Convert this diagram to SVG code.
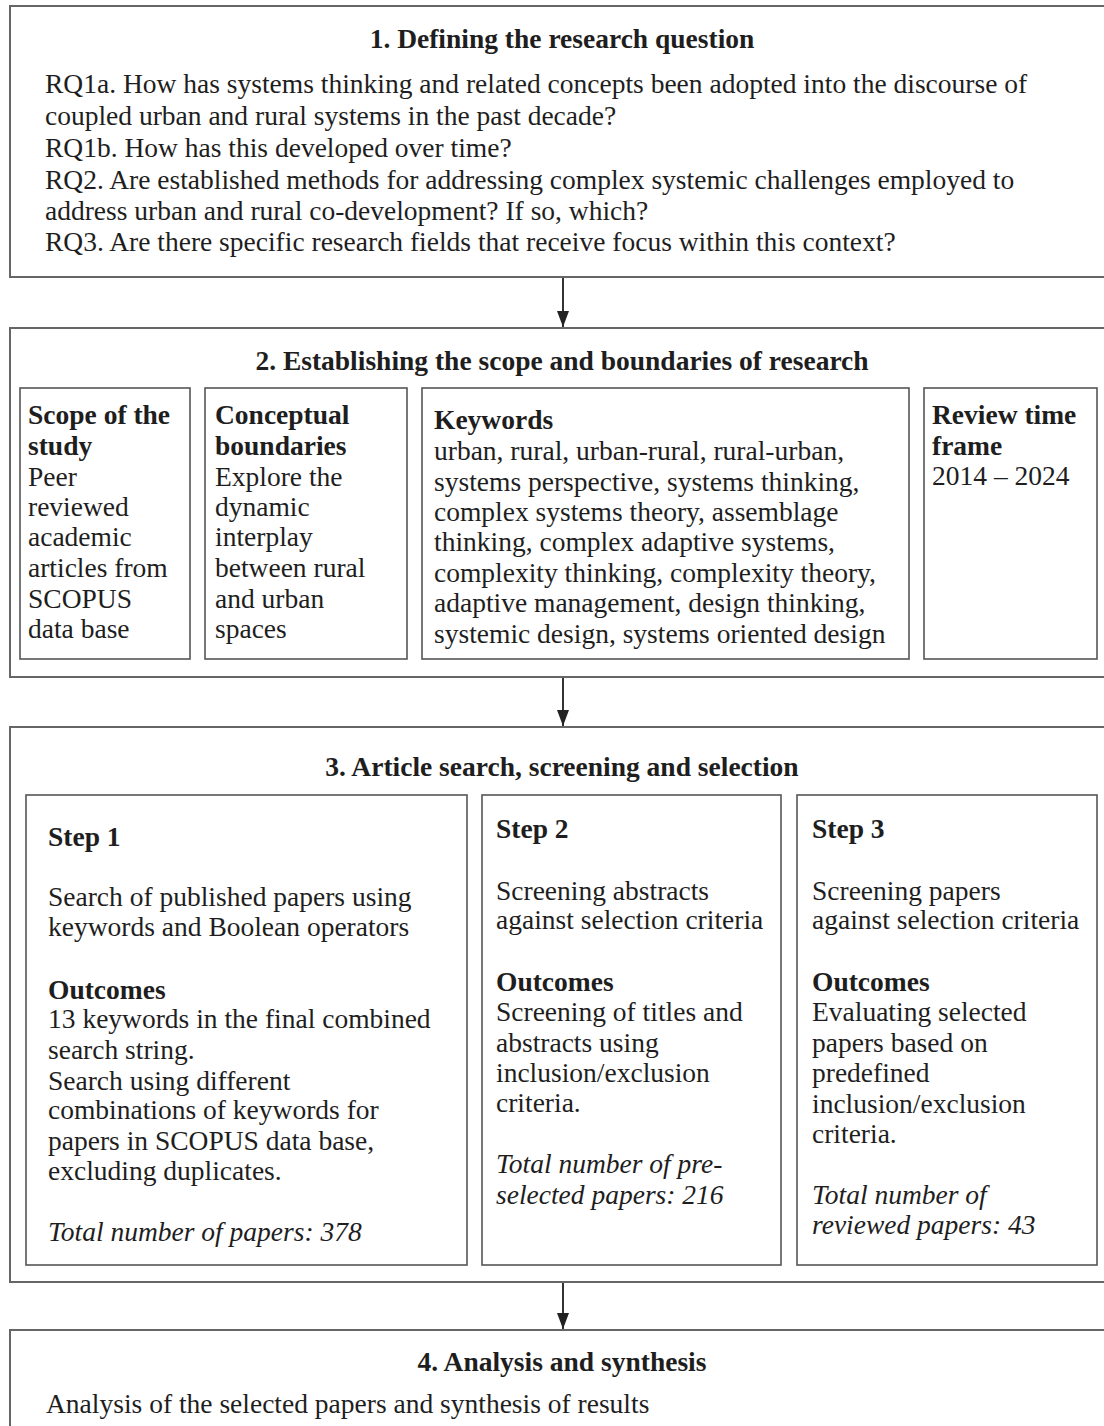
<svg xmlns="http://www.w3.org/2000/svg" width="1104" height="1426" viewBox="0 0 1104 1426">
<defs>
<style>
.outer{fill:#fff;stroke:#666;stroke-width:2}
.inner{fill:#fff;stroke:#555;stroke-width:1.6}
text{font-family:"Liberation Serif","Times New Roman",serif;font-size:27.5px;fill:#1e1e1e}
.t{font-weight:bold;text-anchor:middle}
.b{font-weight:bold}
.i{font-style:italic}
.conn{stroke:#333;stroke-width:2;fill:none}
</style>
<marker id="arr" markerWidth="16" markerHeight="12" refX="16" refY="6" orient="auto" markerUnits="userSpaceOnUse" viewBox="0 0 16 12">
<path d="M0,0 L16,6 L0,12 Z" fill="#222"/>
</marker>
</defs>
<rect width="1104" height="1426" fill="#fff"/>

<g id="node1">
<rect class="outer" x="10" y="6" width="1110" height="271"/>
<text class="t" x="562" y="48">1. Defining the research question</text>
<text x="45" y="93">RQ1a. How has systems thinking and related concepts been adopted into the discourse of</text>
<text x="45" y="125">coupled urban and rural systems in the past decade?</text>
<text x="45" y="157">RQ1b. How has this developed over time?</text>
<text x="45" y="189">RQ2. Are established methods for addressing complex systemic challenges employed to</text>
<text x="45" y="220">address urban and rural co-development? If so, which?</text>
<text x="45" y="251">RQ3. Are there specific research fields that receive focus within this context?</text>
</g>

<g id="node2">
<rect class="outer" x="10" y="328" width="1110" height="349"/>
<text class="t" x="562" y="370">2. Establishing the scope and boundaries of research</text>
</g>
<g id="node2a">
<rect class="inner" x="20" y="388" width="170" height="271"/>
<text class="b" x="28" y="424">Scope of the</text>
<text class="b" x="28" y="455">study</text>
<text x="28" y="486">Peer</text>
<text x="28" y="516">reviewed</text>
<text x="28" y="546">academic</text>
<text x="28" y="577">articles from</text>
<text x="28" y="608">SCOPUS</text>
<text x="28" y="638">data base</text>
</g>
<g id="node2b">
<rect class="inner" x="205" y="388" width="202" height="271"/>
<text class="b" x="215" y="424">Conceptual</text>
<text class="b" x="215" y="455">boundaries</text>
<text x="215" y="486">Explore the</text>
<text x="215" y="516">dynamic</text>
<text x="215" y="546">interplay</text>
<text x="215" y="577">between rural</text>
<text x="215" y="608">and urban</text>
<text x="215" y="638">spaces</text>
</g>
<g id="node2c">
<rect class="inner" x="422" y="388" width="487" height="271"/>
<text class="b" x="434" y="429">Keywords</text>
<text x="434" y="460">urban, rural, urban-rural, rural-urban,</text>
<text x="434" y="491">systems perspective, systems thinking,</text>
<text x="434" y="521">complex systems theory, assemblage</text>
<text x="434" y="551">thinking, complex adaptive systems,</text>
<text x="434" y="582">complexity thinking, complexity theory,</text>
<text x="434" y="612">adaptive management, design thinking,</text>
<text x="434" y="643">systemic design, systems oriented design</text>
</g>
<g id="node2d">
<rect class="inner" x="924" y="388" width="173" height="271"/>
<text class="b" x="932" y="424">Review time</text>
<text class="b" x="932" y="455">frame</text>
<text x="932" y="485">2014 – 2024</text>
</g>

<g id="node3">
<rect class="outer" x="10" y="727" width="1110" height="555"/>
<text class="t" x="562" y="776">3. Article search, screening and selection</text>
</g>
<g id="node3a">
<rect class="inner" x="26" y="795" width="441" height="470"/>
<text class="b" x="48" y="846">Step 1</text>
<text x="48" y="906">Search of published papers using</text>
<text x="48" y="936">keywords and Boolean operators</text>
<text class="b" x="48" y="999">Outcomes</text>
<text x="48" y="1028">13 keywords in the final combined</text>
<text x="48" y="1059">search string.</text>
<text x="48" y="1090">Search using different</text>
<text x="48" y="1119">combinations of keywords for</text>
<text x="48" y="1150">papers in SCOPUS data base,</text>
<text x="48" y="1180">excluding duplicates.</text>
<text class="i" x="48" y="1241">Total number of papers: 378</text>
</g>
<g id="node3b">
<rect class="inner" x="482" y="795" width="299" height="470"/>
<text class="b" x="496" y="838">Step 2</text>
<text x="496" y="900">Screening abstracts</text>
<text x="496" y="929">against selection criteria</text>
<text class="b" x="496" y="991">Outcomes</text>
<text x="496" y="1021">Screening of titles and</text>
<text x="496" y="1052">abstracts using</text>
<text x="496" y="1082">inclusion/exclusion</text>
<text x="496" y="1112">criteria.</text>
<text class="i" x="496" y="1173">Total number of pre-</text>
<text class="i" x="496" y="1204">selected papers: 216</text>
</g>
<g id="node3c">
<rect class="inner" x="797" y="795" width="300" height="470"/>
<text class="b" x="812" y="838">Step 3</text>
<text x="812" y="900">Screening papers</text>
<text x="812" y="929">against selection criteria</text>
<text class="b" x="812" y="991">Outcomes</text>
<text x="812" y="1021">Evaluating selected</text>
<text x="812" y="1052">papers based on</text>
<text x="812" y="1082">predefined</text>
<text x="812" y="1113">inclusion/exclusion</text>
<text x="812" y="1143">criteria.</text>
<text class="i" x="812" y="1204">Total number of</text>
<text class="i" x="812" y="1234">reviewed papers: 43</text>
</g>

<g id="node4">
<rect class="outer" x="10" y="1330" width="1110" height="120"/>
<text class="t" x="562" y="1371">4. Analysis and synthesis</text>
<text x="46" y="1413">Analysis of the selected papers and synthesis of results</text>
</g>

<g id="connectors">
<line class="conn" x1="563" y1="278" x2="563" y2="327" marker-end="url(#arr)"/>
<line class="conn" x1="563" y1="678" x2="563" y2="726" marker-end="url(#arr)"/>
<line class="conn" x1="563" y1="1283" x2="563" y2="1329" marker-end="url(#arr)"/>
</g>
</svg>
